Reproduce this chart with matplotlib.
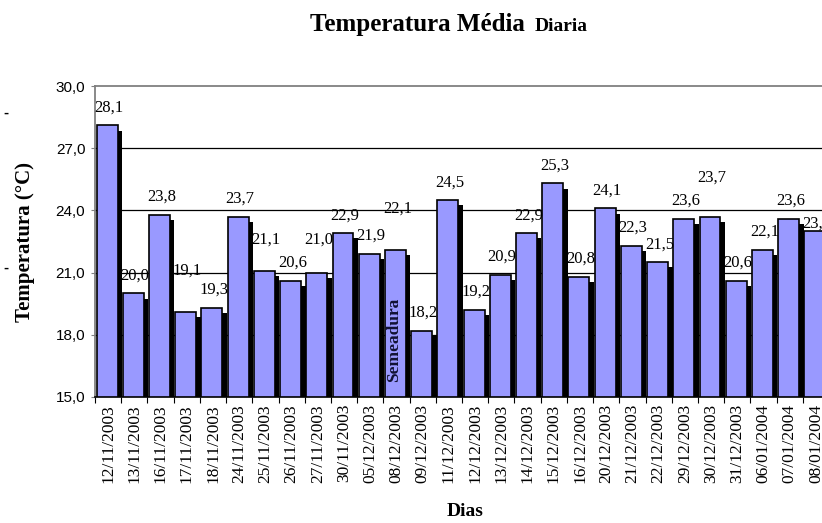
import numpy as np
import matplotlib
matplotlib.use("Agg")
import matplotlib.pyplot as plt

# data
dias = ["12/11/2003", "13/11/2003", "16/11/2003", "17/11/2003", "18/11/2003",
        "24/11/2003", "25/11/2003", "26/11/2003", "27/11/2003", "30/11/2003",
        "05/12/2003", "08/12/2003", "09/12/2003", "11/12/2003", "12/12/2003",
        "13/12/2003", "14/12/2003", "15/12/2003", "16/12/2003", "20/12/2003",
        "21/12/2003", "22/12/2003", "29/12/2003", "30/12/2003", "31/12/2003",
        "06/01/2004", "07/01/2004", "08/01/2004"]
temp = [28.1, 20.0, 23.8, 19.1, 19.3, 23.7, 21.1, 20.6, 21.0, 22.9,
        21.9, 22.1, 18.2, 24.5, 19.2, 20.9, 22.9, 25.3, 20.8, 24.1,
        22.3, 21.5, 23.6, 23.7, 20.6, 22.1, 23.6, 23.0]
# labels that were dragged away from the default spot in the original
label_shift = {3: 2.0, 6: 1.47, 8: 1.57, 11: 2.0, 23: 1.86, 27: 0.35}

serif = "Liberation Serif"
sans = "Liberation Sans"

fig = plt.figure(figsize=(8.22, 5.23), dpi=100)
ax = fig.add_axes([95/822, 1-397/523, 734/822, 311/523])

x = np.arange(len(temp))
vals = np.array(temp)
# drop shadow then the bars
ax.bar(x + 0.13, vals - 15 - 0.25, bottom=15, width=0.8, color="black", zorder=2)
ax.bar(x - 0.04, vals - 15, bottom=15, width=0.8, color="#9999ff",
       edgecolor="black", linewidth=1.2, zorder=3)

for i, v in enumerate(temp):
    off = label_shift.get(i, 0.86)
    ax.text(i + 0.03, v + off, f"{v:.1f}".replace(".", ","), ha="center", va="center",
            family=serif, fontsize=12, zorder=4)

ax.text(10.91, 15.7, "Semeadura", rotation=90, ha="center", va="bottom",
        family=serif, fontweight="bold", fontsize=12.5, color="#111133", zorder=5)

ax.set_xlim(-0.5, len(temp) - 0.5)
ax.set_ylim(15, 30)
ax.set_yticks(np.arange(15, 31, 3))
ax.set_yticklabels([f"{t:.1f}".replace(".", ",") for t in np.arange(15, 31, 3)],
                   family=sans, fontsize=11)
ax.tick_params(axis="y", length=3, color="#808080", pad=4)

ax.set_xticks(np.arange(-0.5, len(temp)), minor=False)
ax.set_xticklabels([])
ax.set_xticks(x, minor=True)
ax.set_xticklabels(dias, minor=True, rotation=90, family=serif, fontsize=12.5)
ax.tick_params(axis="x", which="major", length=4, direction="out")
ax.tick_params(axis="x", which="minor", length=0, pad=5)

for g in [18, 21, 24, 27]:
    ax.axhline(g, color="black", linewidth=0.9, zorder=1)

for s in ["top", "left", "right"]:
    ax.spines[s].set_color("#808080")
    ax.spines[s].set_linewidth(1.3)
ax.spines["bottom"].set_linewidth(1.2)

ax.set_ylabel("Temperatura (°C)", family=serif, fontweight="bold", fontsize=15)
ax.yaxis.set_label_coords((35 - 95) / 734, 0.5)

fig.text(465/822, 1-512/523, "Dias", ha="center", va="center",
         family=serif, fontweight="bold", fontsize=14)
fig.text(310/822, 1-31/523, "Temperatura Média", ha="left", va="baseline",
         family=serif, fontweight="bold", fontsize=18)
fig.text(535/822, 1-31/523, "Diaria", ha="left", va="baseline",
         family=serif, fontweight="bold", fontsize=14)
fig.text(6/822, 1-113/523, "-", ha="center", va="center", family=sans,
         fontweight="bold", fontsize=11)
fig.text(6/822, 1-268/523, "-", ha="center", va="center", family=sans,
         fontweight="bold", fontsize=11)

fig.savefig("out.png", dpi=100)
